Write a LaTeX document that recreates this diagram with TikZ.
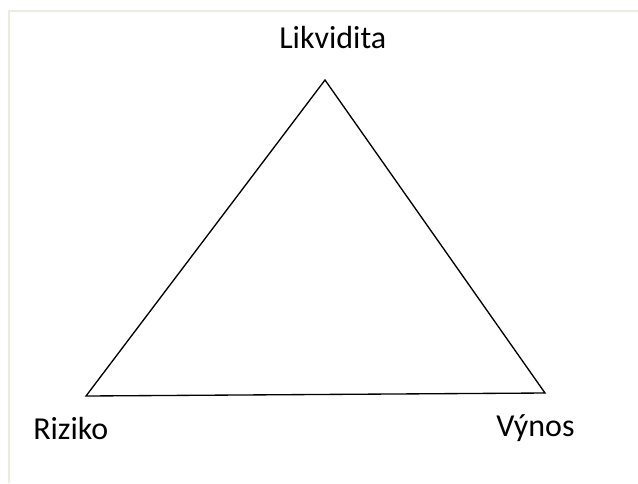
\documentclass[tikz,border=0pt]{standalone}
\usepackage{fontspec}
\setmainfont{Carlito}
\begin{document}
\begin{tikzpicture}[x=0.75pt,y=-0.75pt,
  lbl/.style={inner sep=0pt,font=\fontsize{24}{28}\selectfont},
  frameline/.style={draw={rgb,255:red,238;green,236;blue,224},line width=1.5pt},
  edge/.style={draw=black,line width=1pt,line join=miter}]
\useasboundingbox (0,0) rectangle (638,483);
\fill[white] (0,0) rectangle (638,483);
\coordinate (ftop) at (638,11);
\coordinate (fcorner) at (8.5,11);
\coordinate (fbot) at (8.5,483);
\draw[frameline] (ftop) -- (fcorner) -- (fbot);
\coordinate (top) at (325,80);
\coordinate (left) at (86,396);
\coordinate (right) at (545,393);
\draw[edge] (top) -- (left) -- (right) -- cycle;
\node[lbl,anchor=base west] (likv) at (279,48) {Likvidita};
\node[lbl,anchor=base west] (riz) at (33,439) {Riziko};
\node[lbl,anchor=base west] (vyn) at (496,436) {Výnos};
\end{tikzpicture}
\end{document}
